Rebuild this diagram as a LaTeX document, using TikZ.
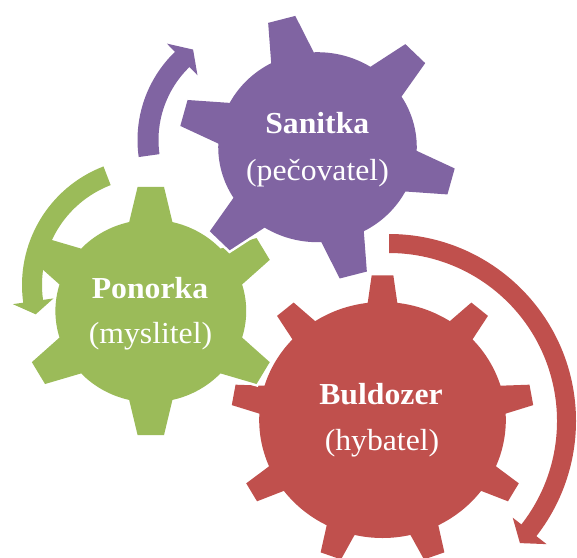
\documentclass[tikz,border=0pt]{standalone}
\usepackage{fontspec}
\setmainfont{Liberation Serif}[FakeStretch=1.04]
\definecolor{gpurple}{HTML}{8064A2}
\definecolor{ggreen}{HTML}{9BBB59}
\definecolor{gred}{HTML}{C0504D}
\tikzset{
  gearbody/.style={preaction={draw=white, line width=5pt, line join=miter}},
  arrowbody/.style={draw=none},
  gtitle/.style={anchor=base, inner sep=0pt, text=white, font=\fontsize{30.5}{36}\selectfont\bfseries},
  gsub/.style={anchor=base, inner sep=0pt, text=white, font=\fontsize{30.5}{36}\selectfont},
}
\begin{document}
\begin{tikzpicture}[x=1pt,y=1pt]
\useasboundingbox (0,0) rectangle (577,-557);

% red gear (Buldozer), 9 teeth
\begin{scope}[shift={(382.5,-420)}, xscale=1.045]
\coordinate (redc) at (0,0);
\fill[gearbody, fill=gred] ({90-6.9}:118)
  \foreach \a in {90,130,...,410} {
    -- ({\a-6.9}:118) -- ({\a-4.1}:145) -- ({\a+4.1}:145) -- ({\a+6.9}:118)
    arc[start angle={\a+6.9}, end angle={\a+40-6.9}, radius=118]
  } -- cycle;
\end{scope}

% green gear (Ponorka), 6 teeth
\begin{scope}[shift={(150.8,-311)}, xscale=1.045]
\coordinate (greenc) at (0,0);
\fill[gearbody, fill=ggreen] ({90-13.1}:91.3)
  \foreach \a in {90,150,...,390} {
    -- ({\a-13.1}:91.3) -- ({\a-5.8}:124.8) -- ({\a+5.8}:124.8) -- ({\a+13.1}:91.3)
    arc[start angle={\a+13.1}, end angle={\a+60-13.1}, radius=91.3]
  } -- cycle;
\end{scope}

% purple gear (Sanitka), 6 teeth
\begin{scope}[shift={(317.5,-147.2)}, xscale=1.045]
\coordinate (purplec) at (0,0);
\fill[gearbody, fill=gpurple] ({105-12.8}:95)
  \foreach \a in {105,165,...,405} {
    -- ({\a-12.8}:95) -- ({\a-5.8}:133) -- ({\a+5.8}:133) -- ({\a+12.8}:95)
    arc[start angle={\a+12.8}, end angle={\a+60-12.8}, radius=95]
  } -- cycle;
\end{scope}

% purple circular arrow
\begin{scope}[shift={(260,-140)}]
\fill[arrowbody, fill=gpurple] (188:101.5) -- (188:122.5)
  arc[start angle=188, end angle=134, radius=122.5]
  -- (134:134) -- (126.5:112.5) -- (134:90) -- (134:101.5)
  arc[start angle=134, end angle=188, radius=101.5] -- cycle;
\end{scope}

% green circular arrow
\begin{scope}[shift={(149,-285)}]
\fill[arrowbody, fill=ggreen] (111:107) -- (111:127)
  arc[start angle=111, end angle=188, radius=127]
  -- (188:137.5) -- (194.5:117) -- (188:96.5) -- (188:107)
  arc[start angle=188, end angle=111, radius=107] -- cycle;
\end{scope}

% red circular arrow
\begin{scope}[shift={(389,-421)}]
\fill[arrowbody, fill=gred] (90:168) -- (90:187)
  arc[start angle=90, end angle=-38, radius=187]
  -- (-38:200) -- (-43:179) -- (-38:157) -- (-38:168)
  arc[start angle=-38, end angle=90, radius=168] -- cycle;
\end{scope}

% labels
\node[gtitle] (sanT) at (317.3,-133.3) {Sanitka};
\node[gsub]   (sanS) at (317.5,-180) {(pečovatel)};
\node[gtitle] (ponT) at (150,-298.3) {Ponorka};
\node[gsub]   (ponS) at (150.5,-343.3) {(myslitel)};
\node[gtitle] (bulT) at (381,-404) {Buldozer};
\node[gsub]   (bulS) at (382,-450.7) {(hybatel)};
\end{tikzpicture}
\end{document}
